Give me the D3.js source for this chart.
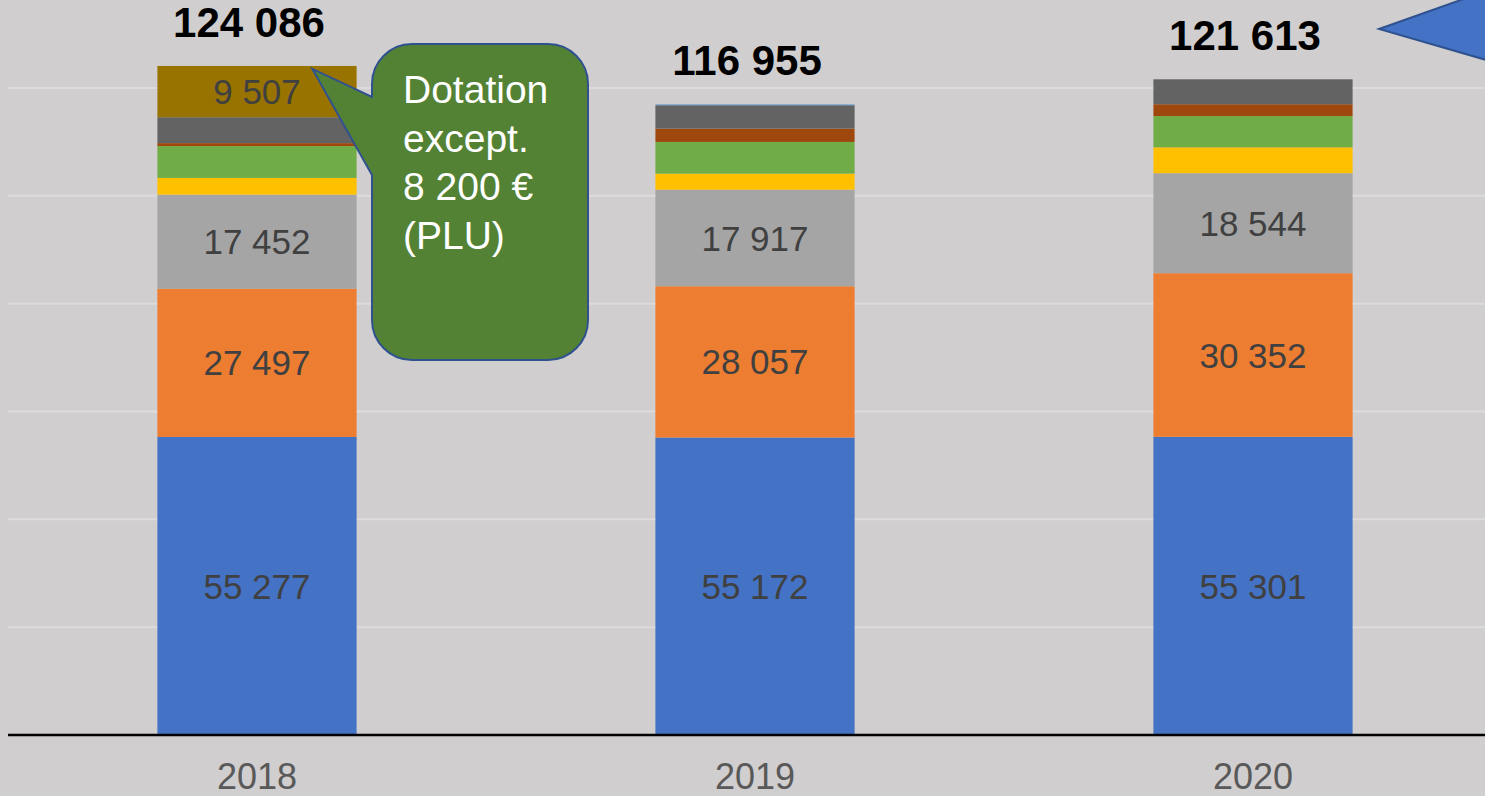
<!DOCTYPE html>
<html>
<head>
<meta charset="utf-8">
<script src="https://cdn.jsdelivr.net/npm/d3@7"></script>
<style>
  body { margin: 0; background: #d0cece; }
  svg { display: block; font-family: "Liberation Sans", Arial, sans-serif; }
</style>
</head>
<body>
<script>
const WIDTH = 1485,
      HEIGHT = 796;

// data
let years = ["2018", "2019", "2020"];
let seriesKeys = ["s1", "s2", "s3", "s4", "s5", "s6", "s7", "s8", "s9"];
let seriesColors = ["#4472c4", "#ed7d31", "#a5a5a5", "#ffc000", "#70ad47",
                    "#9e480e", "#636363", "#5b9bd5", "#997300"];
let s1 = [55277, 55172, 55301];
let s2 = [27497, 28057, 30352];
let s3 = [17452, 17917, 18544];
let s4 = [3100, 2970, 4796];
let s5 = [5900, 5880, 5800];
let s6 = [550, 2470, 2200];
let s7 = [4803, 4339, 4620];
let s8 = [0, 150, 0];
let s9 = [9507, 0, 0];
let totals = [124086, 116955, 121613];
let yTicks = [20000, 40000, 60000, 80000, 100000, 120000];
let calloutLines = ["Dotation", "except.", "8 200 €", "(PLU)"];

let seriesValues = [s1, s2, s3, s4, s5, s6, s7, s8, s9];
let rows = years.map((y, i) => {
  let r = { year: y };
  seriesKeys.forEach((k, j) => { r[k] = seriesValues[j][i]; });
  return r;
});

let svg = d3.select("body").append("svg")
  .attr("width", WIDTH)
  .attr("height", HEIGHT);

svg.append("rect")
  .attr("width", "100%")
  .attr("height", "100%")
  .attr("fill", "#d0cece");

let x = d3.scaleBand()
  .domain(years)
  .range([8, 1502])
  .paddingInner(0.6)
  .paddingOuter(0.3);

let y = d3.scaleLinear()
  .domain([0, 120000])
  .range([735, 88]);

let fmt = (v) => d3.format(",")(v).replace(/,/g, " ");

// gridlines
svg.append("g")
  .selectAll("line")
  .data(yTicks)
  .enter().append("line")
    .attr("x1", 8)
    .attr("x2", WIDTH)
    .attr("y1", d => y(d))
    .attr("y2", d => y(d))
    .attr("stroke", "#dddbdb")
    .attr("stroke-width", 2);

let stack = d3.stack().keys(seriesKeys);
let layers = stack(rows);

let layerG = svg.selectAll(".layer")
  .data(layers)
  .enter().append("g")
    .attr("class", "layer")
    .attr("fill", (d, i) => seriesColors[i]);

layerG.selectAll("rect")
  .data(d => d)
  .enter().append("rect")
    .attr("x", d => x(d.data.year))
    .attr("width", x.bandwidth())
    .attr("y", d => y(d[1]))
    .attr("height", d => y(d[0]) - y(d[1]));

// segment labels (only the big ones)
layerG.selectAll("text")
  .data(d => d.filter(p => p[1] - p[0] > 9000))
  .enter().append("text")
    .attr("x", d => x(d.data.year) + x.bandwidth() / 2)
    .attr("y", d => (y(d[0]) + y(d[1])) / 2)
    .attr("dy", "0.36em")
    .attr("text-anchor", "middle")
    .attr("font-size", 35)
    .attr("fill", "#404040")
    .text(d => fmt(d[1] - d[0]));

// x axis line
svg.append("line")
  .attr("x1", 8)
  .attr("x2", WIDTH)
  .attr("y1", y(0))
  .attr("y2", y(0))
  .attr("stroke", "#000")
  .attr("stroke-width", 2.5);

// year labels
svg.append("g")
  .selectAll("text")
  .data(years)
  .enter().append("text")
    .attr("x", d => x(d) + x.bandwidth() / 2)
    .attr("y", 789)
    .attr("text-anchor", "middle")
    .attr("font-size", 36)
    .attr("fill", "#595959")
    .text(d => d);

// totals
svg.append("g")
  .selectAll("text")
  .data(totals)
  .enter().append("text")
    .attr("x", (d, i) => x(years[i]) + x.bandwidth() / 2 - 8)
    .attr("y", d => y(d) - 29)
    .attr("text-anchor", "middle")
    .attr("font-size", 42)
    .attr("font-weight", "bold")
    .attr("fill", "#000")
    .text(d => fmt(d));

// green callout pointing at the 2018 top segment
let tipX = x("2018") + 155,
    tipY = y(totals[0]) + 3;
let bx0 = 372, bx1 = 588, by0 = 44, by1 = 360, r = 40;
let callout = d3.path();
callout.moveTo(bx0 + r, by0);
callout.lineTo(bx1 - r, by0);
callout.arcTo(bx1, by0, bx1, by0 + r, r);
callout.lineTo(bx1, by1 - r);
callout.arcTo(bx1, by1, bx1 - r, by1, r);
callout.lineTo(bx0 + r, by1);
callout.arcTo(bx0, by1, bx0, by1 - r, r);
callout.lineTo(bx0, 175);
callout.lineTo(tipX, tipY);
callout.lineTo(bx0, 97);
callout.lineTo(bx0, by0 + r);
callout.arcTo(bx0, by0, bx0 + r, by0, r);
callout.closePath();

svg.append("path")
  .attr("d", callout.toString())
  .attr("fill", "#548235")
  .attr("stroke", "#2f528f")
  .attr("stroke-width", 2);

svg.append("g")
  .selectAll("text")
  .data(calloutLines)
  .enter().append("text")
    .attr("x", 403)
    .attr("y", (d, i) => 103 + i * 48.5)
    .attr("font-size", 39)
    .attr("fill", "#fff")
    .text(d => d);

// blue arrow shape cut off at the top right
svg.append("path")
  .attr("d", "M1379,29 L1472,-4 L1500,-4 L1500,64 Z")
  .attr("fill", "#4472c4")
  .attr("stroke", "#2f528f")
  .attr("stroke-width", 2);
</script>
</body>
</html>
